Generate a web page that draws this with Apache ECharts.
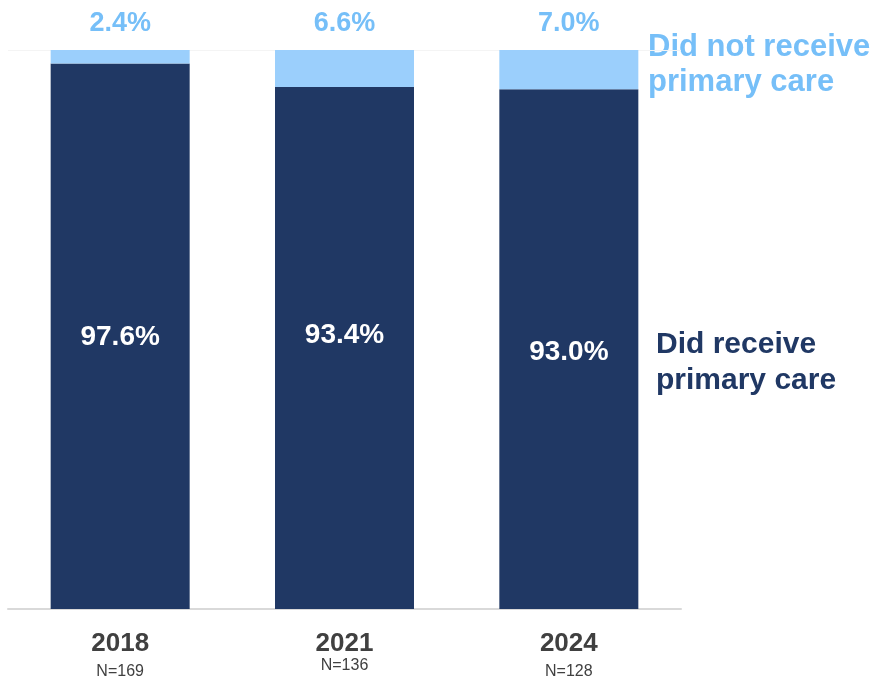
<!DOCTYPE html>
<html>
<head>
<meta charset="utf-8">
<script src="https://cdn.jsdelivr.net/npm/echarts@6/dist/echarts.min.js"></script>
<style>
  html, body { margin: 0; padding: 0; background: #fff; }
  #chart { width: 879px; height: 683px; }
</style>
</head>
<body>
<div id="chart"></div>
<script>
// Survey years and sample sizes
const years = ['2018', '2021', '2024'];
const sampleSizes = ['N=169', 'N=136', 'N=128'];

// Share of respondents (%)
const receivedCare = [97.6, 93.4, 93.0];
const notReceivedCare = [2.4, 6.6, 7.0];

// Vertical nudges for the in-bar value labels
const receivedLabelShift = [1, -13, 3];

const DARK = '#203864';
const LIGHT = '#9bcffc';
const LIGHT_TEXT = '#76bff8';
const SANS = '"Liberation Sans", Arial, Helvetica, sans-serif';

const chart = echarts.init(document.getElementById('chart'));

chart.setOption({
  animation: false,
  grid: { left: 8, right: 198, top: 50, bottom: 74 },
  xAxis: {
    type: 'category',
    data: years,
    axisLine: { lineStyle: { color: '#d9d9d9', width: 2 } },
    axisTick: { show: false },
    axisLabel: {
      margin: 20,
      formatter: function (value, idx) {
        const nStyle = idx === 1 ? 'nUp' : 'n';
        return '{y|' + value + '}\n{' + nStyle + '|' + sampleSizes[idx] + '}';
      },
      rich: {
        y: { fontFamily: SANS, fontWeight: 'bold', fontSize: 26, color: '#404040', lineHeight: 30 },
        n: { fontFamily: SANS, fontSize: 16, color: '#404040', lineHeight: 26 },
        nUp: { fontFamily: SANS, fontSize: 16, color: '#404040', lineHeight: 14 }
      }
    }
  },
  yAxis: {
    type: 'value',
    min: 0,
    max: 100,
    interval: 100,
    axisLabel: { show: false },
    axisLine: { show: false },
    axisTick: { show: false },
    splitLine: { lineStyle: { color: '#f4f4f4', width: 1 } }
  },
  series: [
    {
      name: 'Did receive primary care',
      type: 'bar',
      stack: 'care',
      barWidth: 139,
      itemStyle: { color: DARK },
      data: receivedCare.map(function (v, i) {
        return {
          value: v,
          label: { offset: [0, receivedLabelShift[i]] }
        };
      }),
      label: {
        show: true,
        position: 'inside',
        color: '#ffffff',
        fontFamily: SANS,
        fontWeight: 'bold',
        fontSize: 28,
        formatter: function (p) { return p.value.toFixed(1) + '%'; }
      }
    },
    {
      name: 'Did not receive primary care',
      type: 'bar',
      stack: 'care',
      barWidth: 139,
      itemStyle: { color: LIGHT },
      data: notReceivedCare,
      label: {
        show: true,
        position: 'top',
        distance: 13,
        color: LIGHT_TEXT,
        fontFamily: SANS,
        fontWeight: 'bold',
        fontSize: 27,
        formatter: function (p) { return p.value.toFixed(1) + '%'; }
      }
    }
  ],
  graphic: [
    {
      type: 'text',
      left: 648,
      top: 30,
      style: {
        text: 'Did not receive\nprimary care',
        fill: LIGHT_TEXT,
        font: 'bold 31px ' + SANS,
        lineHeight: 35
      }
    },
    {
      type: 'text',
      left: 656,
      top: 327,
      style: {
        text: 'Did receive\nprimary care',
        fill: DARK,
        font: 'bold 30px ' + SANS,
        lineHeight: 36
      }
    }
  ]
});
</script>
</body>
</html>
